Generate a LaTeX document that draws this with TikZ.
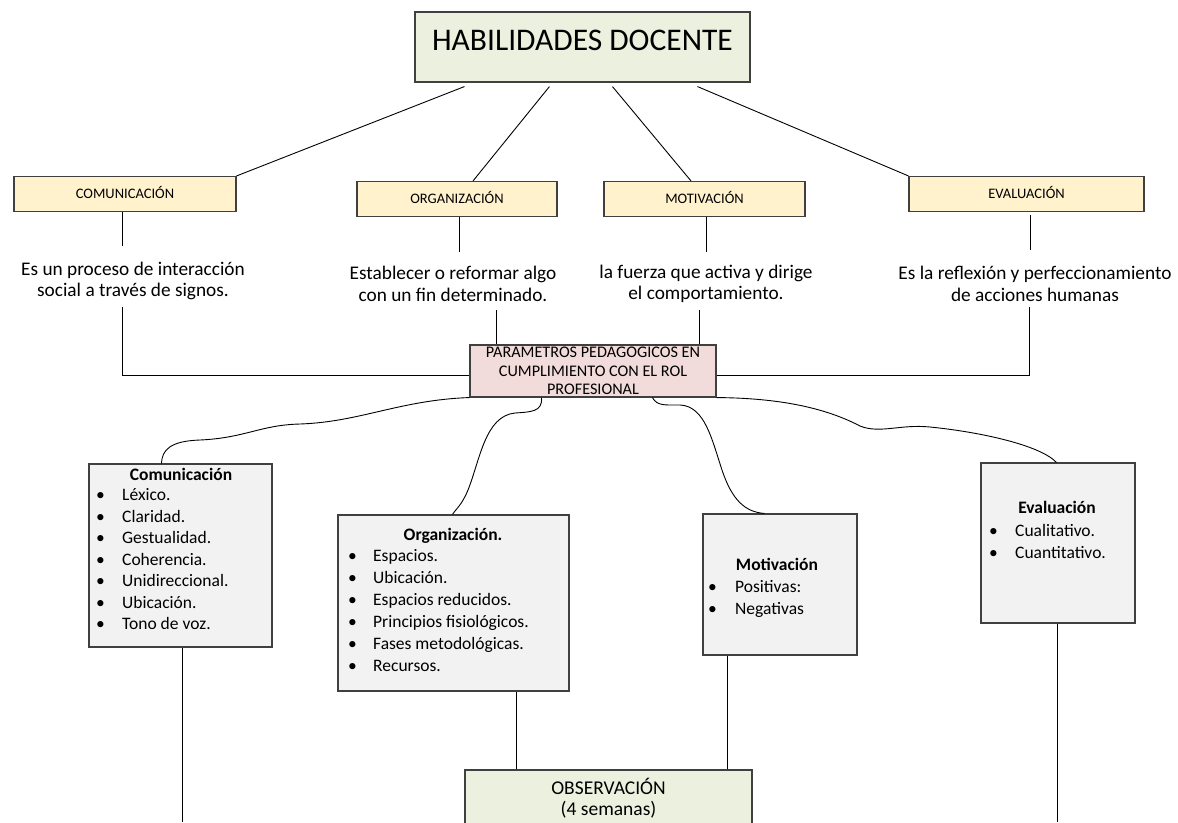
\documentclass[tikz,border=0pt]{standalone}
\usepackage{fontspec}
\setmainfont{Carlito}
\definecolor{greenfill}{RGB}{235,241,222}
\definecolor{yellowfill}{RGB}{255,242,204}
\definecolor{pinkfill}{RGB}{242,220,219}
\definecolor{grayfill}{RGB}{242,242,242}
\definecolor{boxline}{RGB}{64,64,64}
\begin{document}
\begin{tikzpicture}[x=1pt,y=-1pt,
  box/.style={draw=boxline, line width=1.1pt, inner sep=0pt},
  catbox/.style={box, fill=yellowfill, minimum height=35, font=\fontsize{14.5}{17}\selectfont, text height=9.3pt, text depth=0pt},
  cbox/.style={box, fill=grayfill},
  conn/.style={draw=black, line width=0.9pt},
  desc/.style={align=center, inner sep=0pt, font=\fontsize{19.3}{21.5}\selectfont},
  ctitle/.style={inner sep=0pt, anchor=base, font=\fontsize{17.5}{21}\selectfont\bfseries},
  citem/.style={inner sep=0pt, anchor=base west, font=\fontsize{17.5}{21}\selectfont}
]
\useasboundingbox (0,0) rectangle (1178,822);
\fill[white] (0,0) rectangle (1178,822);

% top
\node[box, fill=greenfill, minimum width=335, minimum height=70, font=\fontsize{31.5}{36}\selectfont, text height=21pt, text depth=15pt] (top) at (582.5,47) {HABILIDADES DOCENTE};

% categories
\node[catbox, minimum width=222] (c1) at (125,194) {COMUNICACIÓN};
\node[catbox, minimum width=200] (c2) at (457,199) {ORGANIZACIÓN};
\node[catbox, minimum width=201] (c3) at (704.5,199) {MOTIVACIÓN};
\node[catbox, minimum width=235] (c4) at (1026.5,194) {EVALUACIÓN};

\draw[conn] ([xshift=50pt,yshift=-4pt]top.south west) -- (c1.north east);
\draw[conn] ([xshift=135pt,yshift=-4pt]top.south west) -- ([xshift=16pt]c2.north);
\draw[conn] ([xshift=198pt,yshift=-4pt]top.south west) -- ([xshift=-13.5pt]c3.north);
\draw[conn] ([xshift=283pt,yshift=-4pt]top.south west) -- (c4.north west);

% descriptions
\node[desc] (d1) at (133,281) {Es un proceso de interacción\\social a través de signos.};
\node[desc] (d2) at (453,284) {Establecer o reformar algo\\con un fin determinado.};
\node[desc] (d3) at (706,284) {la fuerza que activa y dirige\\el comportamiento.};
\node[desc] (d4) at (1035,284) {Es la reflexión y perfeccionamiento\\de acciones humanas};

\coordinate (s1) at (122,246);
\coordinate (s2) at (459,252);
\coordinate (s3) at (706,252);
\coordinate (s4) at (1030,250);
\draw[conn] (c1.south -| s1) -- (s1);
\draw[conn] (c2.south -| s2) -- (s2);
\draw[conn] (c3.south -| s3) -- (s3);
\draw[conn] ([yshift=-3pt]c4.south -| s4) -- (s4);

% parametros
\node[box, fill=pinkfill, minimum width=246, minimum height=52, align=center, font=\fontsize{16.2}{18.5}\selectfont] (par) at (593,371) {PARAMETROS PEDAGOGICOS EN\\CUMPLIMIENTO CON EL ROL\\PROFESIONAL};

\coordinate (u1) at (122,307);
\coordinate (u2) at (496,310);
\coordinate (u3) at (699,310);
\coordinate (u4) at (1029,307);
\draw[conn] (u1) |- ([yshift=-4pt]par.west);
\draw[conn] (u2) -- (u2 |- par.north);
\draw[conn] (u3) -- (u3 |- par.north);
\draw[conn] (u4) |- ([yshift=-4pt]par.east);

% content boxes
\node[cbox, minimum width=183, minimum height=183] (b1) at (180.5,555.5) {};
\node[cbox, minimum width=231, minimum height=176] (b2) at (453.5,603) {};
\node[cbox, minimum width=154, minimum height=141] (b3) at (780,584.5) {};
\node[cbox, minimum width=154, minimum height=160] (b4) at (1058,543) {};

\node[ctitle] (b1t) at (181,480.5) {Comunicación};
\foreach [count=\i from 0] \t in {Léxico.,Claridad.,Gestualidad.,Coherencia.,Unidireccional.,Ubicación.,Tono de voz.}
  \node[citem] (b1i\i) at (96,{500.5+21.5*\i}) {\makebox[26pt][l]{•}\t};

\node[ctitle] (b2t) at (453,540.5) {Organización.};
\foreach [count=\i from 0] \t in {Espacios.,Ubicación.,Espacios reducidos.,Principios fisiológicos.,Fases metodológicas.,Recursos.}
  \node[citem] (b2i\i) at (348,{561.5+22*\i}) {\makebox[25pt][l]{•}\t};

\node[ctitle] (b3t) at (777,570.5) {Motivación};
\foreach [count=\i from 0] \t in {Positivas:,Negativas}
  \node[citem] (b3i\i) at (708,{592.5+21.5*\i}) {\makebox[27pt][l]{•}\t};

\node[ctitle] (b4t) at (1057,513.5) {Evaluación};
\foreach [count=\i from 0] \t in {Cualitativo.,Cuantitativo.}
  \node[citem] (b4i\i) at (989,{536.5+22*\i}) {\makebox[26pt][l]{•}\t};

% curves
\draw[conn] (par.south west) .. controls (400,400) and (360,422) .. (300,424)
  .. controls (260,425) and (245,438) .. (200,440)
  .. controls (170,441) and (162,450) .. ([xshift=73pt]b1.north west);
\draw[conn] ([xshift=72pt]par.south west) .. controls (543,412) and (530,412) .. (515,413)
  .. controls (485,416) and (480,460) .. (468,490)
  .. controls (462,505) and (455,510) .. ([xshift=115pt]b2.north west);
\draw[conn] ([xshift=183pt]par.south west) .. controls (657,406) and (665,405) .. (680,405)
  .. controls (705,406) and (712,440) .. (722,470)
  .. controls (732,500) and (745,512) .. ([xshift=62pt]b3.north west);
\draw[conn] (par.south east) .. controls (770,398) and (820,405) .. (860,426)
  .. controls (880,434) and (900,424) .. (930,427)
  .. controls (980,432) and (1040,445) .. ([xshift=76pt]b4.north west);

% observacion
\node[box, fill=greenfill, minimum width=287, minimum height=56, align=center, font=\fontsize{19.5}{21}\selectfont] (obs) at (608.5,798) {OBSERVACIÓN\\(4 semanas)};

\coordinate (v1) at (182,822);
\coordinate (v2) at (516,0);
\coordinate (v3) at (727,0);
\coordinate (v4) at (1057,822);
\draw[conn] (b1.south -| v1) -- (v1);
\draw[conn] (b2.south -| v2) -- (obs.north -| v2);
\draw[conn] (b3.south -| v3) -- (obs.north -| v3);
\draw[conn] (b4.south -| v4) -- (v4);
\end{tikzpicture}
\end{document}
